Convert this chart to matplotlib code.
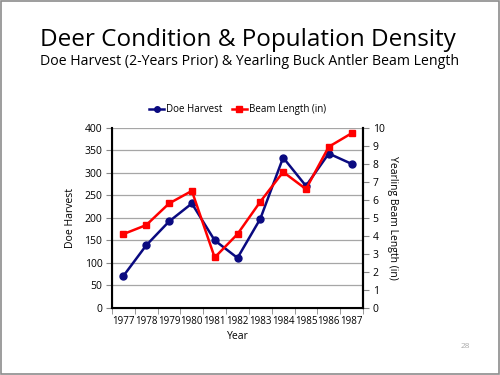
import numpy as np
import matplotlib.pyplot as plt
from matplotlib.patches import Rectangle

plt.rcParams['font.family'] = ['Open Sans', 'DejaVu Sans']

# Данные
years = ['1977', '1978', '1979', '1980', '1981', '1982', '1983', '1984', '1985', '1986', '1987']
doe_harvest = [71, 139, 192, 232, 150, 111, 198, 334, 271, 343, 320]
beam_length = [4.1, 4.6, 5.8, 6.5, 2.8, 4.1, 5.9, 7.55, 6.6, 8.95, 9.7]

fig = plt.figure(figsize=(5, 3.75), dpi=100)
fig.patches.append(Rectangle((0.002, 0.003), 0.995, 0.994, transform=fig.transFigure,
                             fill=False, edgecolor='#8c8c8c', linewidth=1.2))

fig.text(0.495, 0.893, 'Deer Condition & Population Density', ha='center', va='center',
         fontsize=17.5, color='black')
fig.text(0.5, 0.835, 'Doe Harvest (2-Years Prior) & Yearling Buck Antler Beam Length',
         ha='center', va='center', fontsize=10.2, color='black')
fig.text(0.93, 0.075, '28', ha='center', va='center', fontsize=6, color='#aaaaaa')

ax = fig.add_axes([0.224, 0.179, 0.502, 0.48])
x = np.arange(len(years))

l1, = ax.plot(x, doe_harvest, color='#0a0a80', linewidth=1.8, marker='o', markersize=5,
              label='Doe Harvest')
ax.set_xlim(-0.5, len(years) - 0.5)
ax.set_ylim(0, 400)
ax.set_yticks(np.arange(0, 401, 50))
ax.set_xticks(x)
ax.set_xticklabels(years)
ax.set_xticks(np.arange(-0.5, len(years), 1), minor=True)
ax.tick_params(axis='x', which='major', length=0, labelsize=7, pad=6)
ax.tick_params(axis='x', which='minor', length=4, color='#888888')
ax.tick_params(axis='y', labelsize=7.5, length=4, color='#888888', pad=3)
ax.grid(True, axis='y', color='#a6a6a6', linewidth=0.9)
ax.set_axisbelow(True)
ax.set_ylabel('Doe Harvest', fontsize=7.5, labelpad=6)
ax.set_xlabel('Year', fontsize=7.5, labelpad=3)
for s in ['left', 'bottom', 'right']:
    ax.spines[s].set_color('black')
    ax.spines[s].set_linewidth(1.5)
ax.spines['top'].set_visible(False)

ax2 = ax.twinx()
l2, = ax2.plot(x, beam_length, color='#ff0000', linewidth=1.8, marker='s', markersize=5,
               label='Beam Length (in)')
ax2.set_ylim(0, 10)
ax2.set_yticks(np.arange(0, 11, 1))
ax2.tick_params(axis='y', labelsize=7.5, length=4, color='#888888', pad=3)
ax2.set_ylabel('Yearling Beam Length (in)', fontsize=7.5, rotation=270, labelpad=10)
ax2.spines['right'].set_color('black')
ax2.spines['right'].set_linewidth(1.5)
ax2.spines['top'].set_visible(False)

fig.legend(handles=[l1, l2], loc='center', bbox_to_anchor=(0.475, 0.708), ncol=2,
           frameon=False, fontsize=7, handlelength=1.5, handletextpad=0.2,
           columnspacing=1.0, markerscale=0.8)

plt.savefig('out.png', dpi=100)
